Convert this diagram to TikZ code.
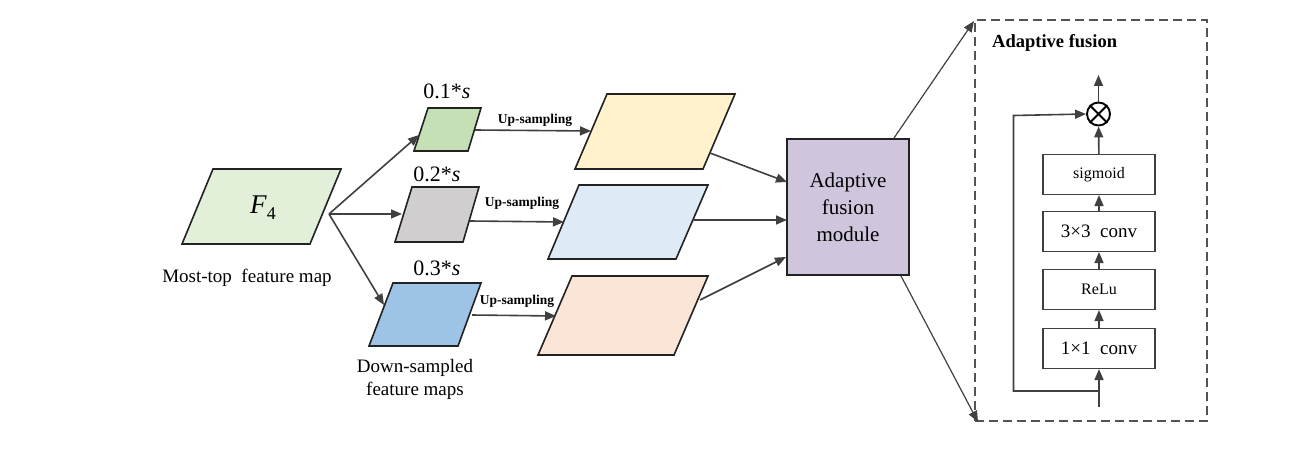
\documentclass[tikz,border=0pt]{standalone}
\usepackage{fontspec}
\setmainfont{Liberation Serif}
\usetikzlibrary{arrows.meta,shapes.geometric}
\definecolor{ln}{HTML}{404040}
\definecolor{edge}{HTML}{222222}
\definecolor{cF}{HTML}{E2F0D9}
\definecolor{cG}{HTML}{C5E0B4}
\definecolor{cGr}{HTML}{D0CECE}
\definecolor{cB}{HTML}{9DC3E6}
\definecolor{cY}{HTML}{FFF2CC}
\definecolor{cLB}{HTML}{DEEBF7}
\definecolor{cP}{HTML}{FBE5D6}
\definecolor{cPu}{HTML}{CFC6DD}
\begin{document}
\begin{tikzpicture}[x=1pt,y=-1pt,
  fm/.style={draw=edge, line width=1.6pt, line join=miter},
  arr/.style={draw=ln, line width=1.6pt, -{Triangle[length=11pt,width=9pt]}},
  lbl/.style={font=\fontsize{19}{23}\selectfont, inner sep=0, align=center},
  scl/.style={font=\fontsize{22}{24}\selectfont, inner sep=0},
  up/.style={font=\bfseries\fontsize{13.5}{15}\selectfont, inner sep=0},
  blk/.style={draw=ln, line width=1.1pt, minimum width=112pt, minimum height=40pt, inner sep=0},
  pbox/.style={draw=edge, line width=1.8pt, fill=cPu, minimum width=122pt, minimum height=136pt, inner sep=0, align=center, font=\fontsize{21}{27}\selectfont},
  dbox/.style={draw=ln!90, line width=1.1pt, dash pattern=on 9pt off 5pt, minimum width=232pt, minimum height=401pt, inner sep=0}
]
\useasboundingbox (0,0) rectangle (1300,457);

% feature map parallelograms
\path[fm, fill=cF]  (213,169) -- (341,169) -- (310,244) -- (182,244) -- cycle;
\path[fm, fill=cG]  (428,108) -- (481,108) -- (468,151) -- (414,151) -- cycle;
\path[fm, fill=cGr] (412,187) -- (479,187) -- (463,242) -- (395,242) -- cycle;
\path[fm, fill=cB]  (393,283) -- (481,283) -- (458,346) -- (369,346) -- cycle;
\path[fm, fill=cY]  (607,94) -- (735,94) -- (703,169) -- (575,169) -- cycle;
\path[fm, fill=cLB] (579,185) -- (708,185) -- (676,259) -- (548,259) -- cycle;
\path[fm, fill=cP]  (572,276) -- (708,276) -- (674,355) -- (538,355) -- cycle;

% labels
\node[inner sep=0, font=\fontsize{27}{30}\selectfont] (f4) at (263,208) {\textit{F}\raisebox{-0.22em}{\fontsize{18}{18}\selectfont 4}};
\node[lbl] (mt) at (247,278) {Most-top\ \ feature map};
\node[scl] (s1) at (447,91) {0.1*\textit{s}};
\node[scl] (s2) at (437,174) {0.2*\textit{s}};
\node[scl] (s3) at (437,268) {0.3*\textit{s}};
\node[lbl] (ds) at (415,379) {Down-sampled\\feature maps};
\node[up] (l1) at (535,120) {Up-sampling};
\node[up] (l2) at (522,203) {Up-sampling};
\node[up] (l3) at (517,301) {Up-sampling};

% attachment points
\coordinate (f4o) at (329,214);
\coordinate (g1i) at (419,135);
\coordinate (g2i) at (402,214);
\coordinate (g3i) at (384,305);
\coordinate (g1o) at (475,130);
\coordinate (g2o) at (470,221);
\coordinate (g3o) at (472,315);
\coordinate (u1i) at (591,131);
\coordinate (u2i) at (564,222);
\coordinate (u3i) at (556,316);
\coordinate (u1o) at (710,153);
\coordinate (u2o) at (693,220);
\coordinate (u3o) at (700,300);

% adaptive fusion module
\node[pbox] (afm) at (848,207) {Adaptive\\fusion\\module};
\coordinate (a1) at (787,182);
\coordinate (a2) at (787,220);
\coordinate (a3) at (786,257);
\coordinate (at) at (894,138);
\coordinate (ab) at (901,276);

\draw[arr] (f4o) -- (g1i);
\draw[arr] (f4o) -- (g2i);
\draw[arr] (f4o) -- (g3i);
\draw[arr] (g1o) -- (u1i);
\draw[arr] (g2o) -- (u2i);
\draw[arr] (g3o) -- (u3i);
\draw[arr] (u1o) -- (a1);
\draw[arr] (u2o) -- (a2);
\draw[arr] (u3o) -- (a3);

% dashed detail box
\node[dbox] (db) at (1091,220.5) {};
\coordinate (dt) at (974,21);
\coordinate (dbt) at (978,422);
\draw[arr, line width=1.2pt] (at) -- (dt);
\draw[arr, line width=1.2pt] (ab) -- (dbt);
\node[inner sep=0, anchor=west, font=\bfseries\fontsize{18.5}{20}\selectfont] (aft) at (992,43) {Adaptive fusion};

\node[blk, font=\fontsize{16}{18}\selectfont] (sg) at (1099,174.5) {sigmoid};
\node[blk, font=\fontsize{19}{20}\selectfont] (c3) at (1099,231.5) {3×3\ \ conv};
\node[blk, font=\fontsize{16}{18}\selectfont] (rl) at (1099,289.5) {ReLu};
\node[blk, font=\fontsize{19}{20}\selectfont] (c1) at (1099,348.5) {1×1\ \ conv};
\node[circle, draw=black, line width=1.9pt, minimum size=23pt, inner sep=0] (ot) at (1098.5,114) {};
\draw[line width=1.9pt] (ot.north west) -- (ot.south east) (ot.north east) -- (ot.south west);

\coordinate (inp) at (1099,407);
\coordinate (br) at (1099,391);
\coordinate (lp) at (1013.5,115.5);
\coordinate (out) at (1098.5,75);

\draw[arr] (inp) -- (c1.south);
\draw[arr] (c1) -- (rl);
\draw[arr] (rl) -- (c3);
\draw[arr] (c3) -- (sg);
\draw[arr] (sg) -- (ot);
\draw[arr] (ot) -- (out);
\draw[arr] (br) -| (lp) -- (ot.west);
\end{tikzpicture}
\end{document}
